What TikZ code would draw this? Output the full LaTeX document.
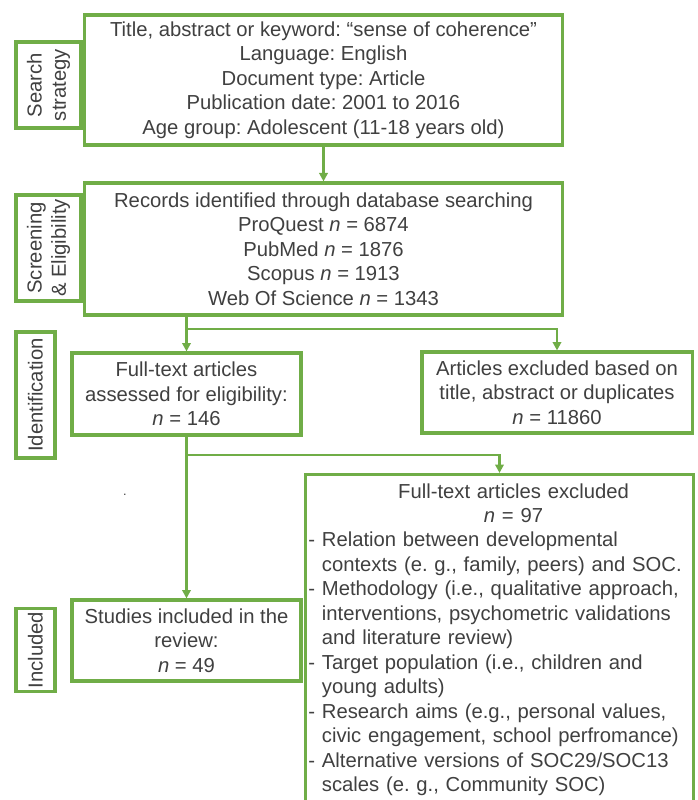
\documentclass[tikz,border=0pt]{standalone}
\usepackage{fontspec}
\setmainfont{Liberation Sans}
\frenchspacing
\usetikzlibrary{arrows.meta}
\definecolor{boxgreen}{RGB}{112,173,71}
\definecolor{txtgray}{RGB}{64,64,64}
\tikzset{
	box/.style={draw=boxgreen, line width=2.2pt, fill=white, text=txtgray, align=center, inner sep=2pt},
	stage/.style={box, rotate=90},
	link/.style={draw=boxgreen, line width=1.6pt, -{Triangle[length=6pt,width=6pt]}}
}

\begin{document}
\begin{tikzpicture}[x=0.025cm, y=-0.025cm, font=\fontsize{14.4}{17.4}\selectfont]
		\useasboundingbox (0,0) rectangle (697,800);
		
		\node[stage, minimum width=2.15cm, minimum height=1.625cm] (lsearch) at (48.5, 85) {Search\\strategy};
		\node[stage, minimum width=2.65cm, minimum height=1.625cm] (lscreen) at (48.5, 248) {Screening\\\& Eligibility};
		\node[stage, minimum width=3.15cm, minimum height=0.975cm] (lident) at (35.5, 395) {Identification};
		\node[stage, minimum width=2.0cm, minimum height=0.975cm] (lincl) at (35.5, 650) {Included};
		
		\node[box, minimum width=11.925cm, minimum height=3.25cm] (search) at (323.5, 80) {Title, abstract or keyword: “sense of coherence”\\Language: English\\Document type: Article\\Publication date: 2001 to 2016\\Age group: Adolescent (11-18 years old)};
		\node[box, minimum width=11.925cm, minimum height=3.3cm] (records) at (323.5, 249) {Records identified through database searching\\ProQuest \textit{n} = 6874\\PubMed \textit{n} = 1876\\Scopus \textit{n} = 1913\\Web Of Science \textit{n} = 1343};
		\node[box, minimum width=5.725cm, minimum height=2.05cm] (assessed) at (186.5, 394) {Full-text articles\\assessed for eligibility:\\\textit{n} = 146};
		\node[box, minimum width=6.75cm, minimum height=2.025cm] (excl1) at (557, 392.5) {Articles excluded based on\\title, abstract or duplicates\\\textit{n} = 11860};
		\node[box, minimum width=5.725cm, minimum height=2.025cm] (studies) at (186.5, 640.5) {Studies included in the\\review:\\\textit{n} = 49};
		\node[box, anchor=north, text width=9.55cm, align=left, inner ysep=0.22cm] (excl2) at (499.5, 473) {%
			{\centering\advance\leftskip by 0.7cm Full-text articles excluded\\ \textit{n} = 97\par}
			- Relation between developmental\\
			\phantom{- }contexts (e. g., family, peers) and SOC.\\
			- Methodology (i.e., qualitative approach,\\
			\phantom{- }interventions, psychometric validations\\
			\phantom{- }and literature review)\\
			- Target population (i.e., children and\\
			\phantom{- }young adults)\\
			- Research aims (e.g., personal values,\\
			\phantom{- }civic engagement, school perfromance)\\
			- Alternative versions of SOC29/SOC13\\
			\phantom{- }scales (e. g., Community SOC)};
		
		\node[text=txtgray, inner sep=0pt, font=\small] (dot) at (125, 495) {.};
		
		\coordinate (split1) at (186.5, 329);
		\coordinate (split2) at (186.5, 455);
		
		\draw[link] (search) -- (records);
		\draw[link] (records.south -| assessed.north) -- (assessed);
		\draw[link] (split1) -| (excl1);
		\draw[link] (assessed) -- (studies);
		\draw[link] (split2) -| (excl2);
		
	\end{tikzpicture}
\end{document}
